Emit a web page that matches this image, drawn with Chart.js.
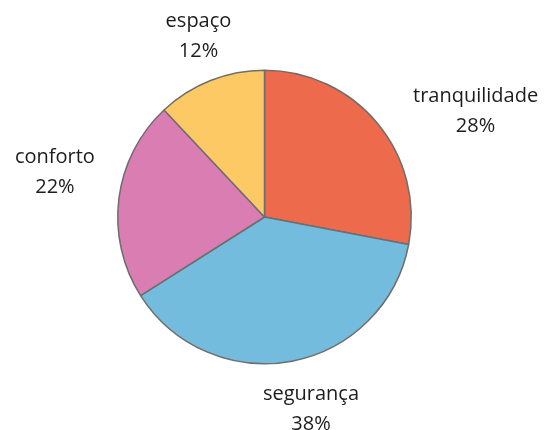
<!DOCTYPE html>
<html>
<head>
<meta charset="utf-8">
<script src="https://cdn.jsdelivr.net/npm/chart.js@4/dist/chart.umd.min.js"></script>
<style>
  html, body { margin: 0; padding: 0; background: #fff; }
  #wrap { width: 547px; height: 430px; }
</style>
</head>
<body>
<div id="wrap"><canvas id="myChartPie"></canvas></div>
<script>
// data
var categories = ['tranquilidade', 'segurança', 'conforto', 'espaço'];
var percents = [28, 38, 22, 12];
var sliceColors = ['#EE6A4C', '#74BCDE', '#DA7DB2', '#FDC964'];

// where each label sits, measured from the outer middle of its slice
var labelShift = [[98, -12], [19, 48], [-64, -26], [-12, -44]];

var outsideLabels = {
	id: 'outsideLabels',
	afterDraw: function (chart) {
		var ctx = chart.ctx;
		var arcs = chart.getDatasetMeta(0).data;
		ctx.save();
		ctx.fillStyle = '#1e1b1c';
		ctx.font = '500 20px "Open Sans"';
		ctx.textAlign = 'center';
		ctx.textBaseline = 'middle';
		for (var i = 0; i < arcs.length; i++) {
			var a = arcs[i];
			var mid = (a.startAngle + a.endAngle) / 2;
			var x = a.x + Math.cos(mid) * a.outerRadius + labelShift[i][0];
			var y = a.y + Math.sin(mid) * a.outerRadius + labelShift[i][1];
			ctx.fillText(categories[i], x, y - 15);
			ctx.fillText(percents[i] + '%', x, y + 15);
		}
		ctx.restore();
	}
};

var ctx_1 = document.getElementById('myChartPie').getContext('2d');
var myPieChart = new Chart(ctx_1, {
	type: 'pie',
	data: {
		labels: categories,
		datasets: [{
			data: percents,
			backgroundColor: sliceColors,
			borderColor: '#6e6e6e',
			borderWidth: 1.5
		}]
	},
	options: {
		responsive: true,
		maintainAspectRatio: false,
		animation: false,
		layout: { padding: { left: 117, right: 135, top: 69, bottom: 65 } },
		plugins: {
			legend: { display: false },
			tooltip: { enabled: false }
		}
	},
	plugins: [outsideLabels]
});
</script>
</body>
</html>
